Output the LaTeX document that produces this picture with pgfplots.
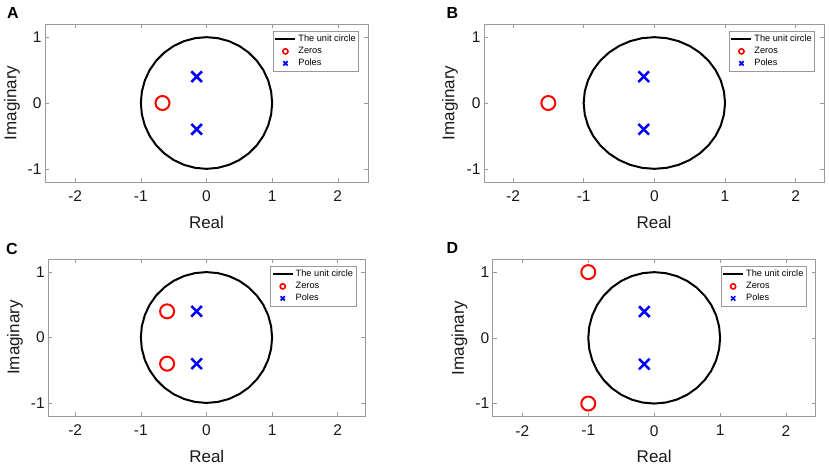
\documentclass[border=0pt]{standalone}
\usepackage{fontspec}
\setmainfont{Liberation Sans}
\usepackage{pgfplots}
\usepackage{pgfplotstable}
\pgfplotsset{compat=1.18}

\pgfplotstableread{
x y
1 0
0.9848 0.1736
0.9397 0.3420
0.8660 0.5000
0.7660 0.6428
0.6428 0.7660
0.5000 0.8660
0.3420 0.9397
0.1736 0.9848
0 1
-0.1736 0.9848
-0.3420 0.9397
-0.5000 0.8660
-0.6428 0.7660
-0.7660 0.6428
-0.8660 0.5000
-0.9397 0.3420
-0.9848 0.1736
-1 0
-0.9848 -0.1736
-0.9397 -0.3420
-0.8660 -0.5000
-0.7660 -0.6428
-0.6428 -0.7660
-0.5000 -0.8660
-0.3420 -0.9397
-0.1736 -0.9848
0 -1
0.1736 -0.9848
0.3420 -0.9397
0.5000 -0.8660
0.6428 -0.7660
0.7660 -0.6428
0.8660 -0.5000
0.9397 -0.3420
0.9848 -0.1736
1 0
}\circletable

\pgfplotstableread{
x y
-0.15 0.4
-0.15 -0.4
}\poles

\pgfplotsset{
  zp/.style={
    scale only axis,
    anchor=south west,
    ymin=-1.2, ymax=1.2,
    xtick={-2,-1,0,1,2}, ytick={-1,0,1},
    tick align=inside, major tick length=4pt,
    axis line style={draw=black!40, line width=0.6pt},
    every tick/.style={draw=black!40, line width=0.6pt},
    ticklabel style={font=\fontsize{15.5}{15.5}\selectfont, text=black!90},
    xticklabel style={yshift=-5pt},
    /pgf/number format/assume math mode=true,
    xlabel={Real}, ylabel={Imaginary},
    label style={font=\fontsize{17}{17}\selectfont, text=black!90},
    xlabel style={at={(axis description cs:0.5,0)}, anchor=center, yshift=-40pt},
    ylabel style={anchor=center},
    legend style={at={(1,1)}, anchor=north east, xshift=-9pt, yshift=-7pt,
      draw=black!40, line width=0.6pt, font=\fontsize{9.2}{13}\selectfont,
      inner xsep=1pt, inner ysep=2pt},
    legend cell align=left,
  },
  ucirc/.style={black, line width=2pt, mark=none,
    legend image code/.code={\draw[black, line width=2pt] (0pt,0pt) -- (20pt,0pt);}},
  zer/.style={only marks, mark=o, red, mark size=7pt, line width=2pt,
    legend image code/.code={\path[draw=none, fill=none] (0pt,0pt) -- (20pt,0pt); \draw[red, line width=1.6pt] plot[mark=o, mark size=2.6pt] coordinates {(10pt,0pt)};}},
  pol/.style={only marks, mark=x, blue, mark size=7.5pt, line width=2.5pt,
    legend image code/.code={\path[draw=none, fill=none] (0pt,0pt) -- (20pt,0pt); \draw[blue, line width=1.7pt] plot[mark=x, mark size=3pt] coordinates {(10pt,0pt)};}},
}

\begin{document}
\begin{tikzpicture}
\useasboundingbox (0pt,0pt) rectangle (829pt,467pt);

% A
\begin{axis}[zp, at={(45pt,285pt)}, width=323pt, height=158pt,
  xmin=-2.46, xmax=2.46,
  ylabel style={at={(axis description cs:-0.102,0.5)}}]
\addplot[ucirc] table {\circletable};
\addlegendentry{The unit circle}
\addplot[zer] coordinates {(-0.67,0)};
\addlegendentry{Zeros}
\addplot[pol] table {\poles};
\addlegendentry{Poles}
\end{axis}

% B
\begin{axis}[zp, at={(484pt,285pt)}, width=340pt, height=158pt,
  xmin=-2.41, xmax=2.40,
  ylabel style={at={(axis description cs:-0.1,0.5)}}]
\addplot[ucirc] table {\circletable};
\addlegendentry{The unit circle}
\addplot[zer] coordinates {(-1.5,0)};
\addlegendentry{Zeros}
\addplot[pol] table {\poles};
\addlegendentry{Poles}
\end{axis}

% C
\begin{axis}[zp, at={(48.3pt,51pt)}, width=317pt, height=157pt,
  xmin=-2.41, xmax=2.42,
  ylabel style={at={(axis description cs:-0.105,0.5)}}]
\addplot[ucirc] table {\circletable};
\addlegendentry{The unit circle}
\addplot[zer] coordinates {(-0.6,0.4) (-0.6,-0.4)};
\addlegendentry{Zeros}
\addplot[pol] table {\poles};
\addlegendentry{Poles}
\end{axis}

% D
\begin{axis}[zp, at={(492.7pt,50.3pt)}, width=323pt, height=157.7pt,
  xmin=-2.45, xmax=2.45,
  ylabel style={at={(axis description cs:-0.103,0.5)}}]
\addplot[ucirc] table {\circletable};
\addlegendentry{The unit circle}
\addplot[zer] coordinates {(-1,1) (-1,-1)};
\addlegendentry{Zeros}
\addplot[pol] table {\poles};
\addlegendentry{Poles}
\end{axis}

\node[font=\bfseries\fontsize{16}{16}\selectfont] at (13pt,454pt) {A};
\node[font=\bfseries\fontsize{16}{16}\selectfont] at (452.5pt,454pt) {B};
\node[font=\bfseries\fontsize{16}{16}\selectfont] at (12pt,218.5pt) {C};
\node[font=\bfseries\fontsize{16}{16}\selectfont] at (452.5pt,219pt) {D};
\end{tikzpicture}
\end{document}
